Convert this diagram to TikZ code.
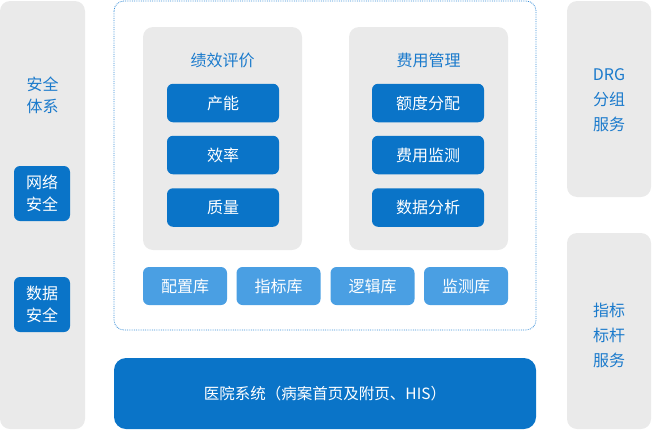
\documentclass[tikz,border=0pt]{standalone}
\usepackage{fontspec}
\setmainfont{Noto Sans CJK SC}
\definecolor{dblue}{HTML}{0A74C8}
\definecolor{lblue}{HTML}{4A9FE3}
\definecolor{pgray}{HTML}{EAEAEA}
\definecolor{tblue}{HTML}{1A7ACC}
\definecolor{dotc}{HTML}{3A8FD8}
\tikzset{
  panel/.style={fill=pgray, rounded corners=10pt, draw=none},
  darkbox/.style={fill=dblue, rounded corners=6pt, text=white, font=\fontsize{16}{20}\selectfont, align=center, inner sep=0pt},
  lightbox/.style={fill=lblue, rounded corners=6pt, text=white, font=\fontsize{16}{20}\selectfont, align=center, inner sep=0pt},
  ptitle/.style={text=tblue, font=\fontsize{16}{25}\selectfont, align=center, inner sep=0pt},
}
\begin{document}
\begin{tikzpicture}[x=1pt,y=-1pt]
\useasboundingbox (0,0) rectangle (652,431);
% left panel
\path[panel] (0,1) rectangle (85,429);
\node[ptitle, font=\fontsize{16}{22}\selectfont] (aqtx) at (42.5,95) {安全\\体系};
\node[darkbox, minimum width=56pt, minimum height=55pt, font=\fontsize{16}{22}\selectfont] (wlaq) at (42,193.5) {网络\\安全};
\node[darkbox, minimum width=56pt, minimum height=55pt, font=\fontsize{16}{22}\selectfont] (sjaq) at (42,304.5) {数据\\安全};
% dotted frame
\draw[dotc, densely dotted, line width=0.8pt, rounded corners=10pt] (114,1) rectangle (536,330);
% inner panels
\path[panel] (143,27) rectangle (302,250);
\path[panel] (349,27) rectangle (508,250);
\node[ptitle] (jxpj) at (222.5,60) {绩效评价};
\node[ptitle] (fygl) at (428.5,60) {费用管理};
\foreach \n/\t/\y in {cn/产能/103, xl/效率/155, zl/质量/207.5}{
  \node[darkbox, minimum width=112pt, minimum height=38.5pt] (\n) at (223,\y) {\t};
}
\foreach \n/\t/\y in {edfp/额度分配/103, fyjc/费用监测/155, sjfx/数据分析/207.5}{
  \node[darkbox, minimum width=112pt, minimum height=38.5pt] (\n) at (428,\y) {\t};
}
% db boxes
\foreach \n/\t/\x in {pzk/配置库/185, zbk/指标库/278.5, ljk/逻辑库/372.5, jck/监测库/466}{
  \node[lightbox, minimum width=84pt, minimum height=38pt] (\n) at (\x,286) {\t};
}
% hospital
\node[darkbox, rounded corners=12pt, minimum width=422pt, minimum height=71pt, font=\fontsize{15.5}{20}\selectfont] (yyxt) at (325,393.5) {医院系统（病案首页及附页、HIS）};
% right panels
\path[panel] (567,1) rectangle (651,197);
\path[panel] (567,233) rectangle (651,429);
\node[ptitle] (drg) at (609,100) {DRG\\分组\\服务};
\node[ptitle] (zbbg) at (609,335) {指标\\标杆\\服务};
\end{tikzpicture}
\end{document}
